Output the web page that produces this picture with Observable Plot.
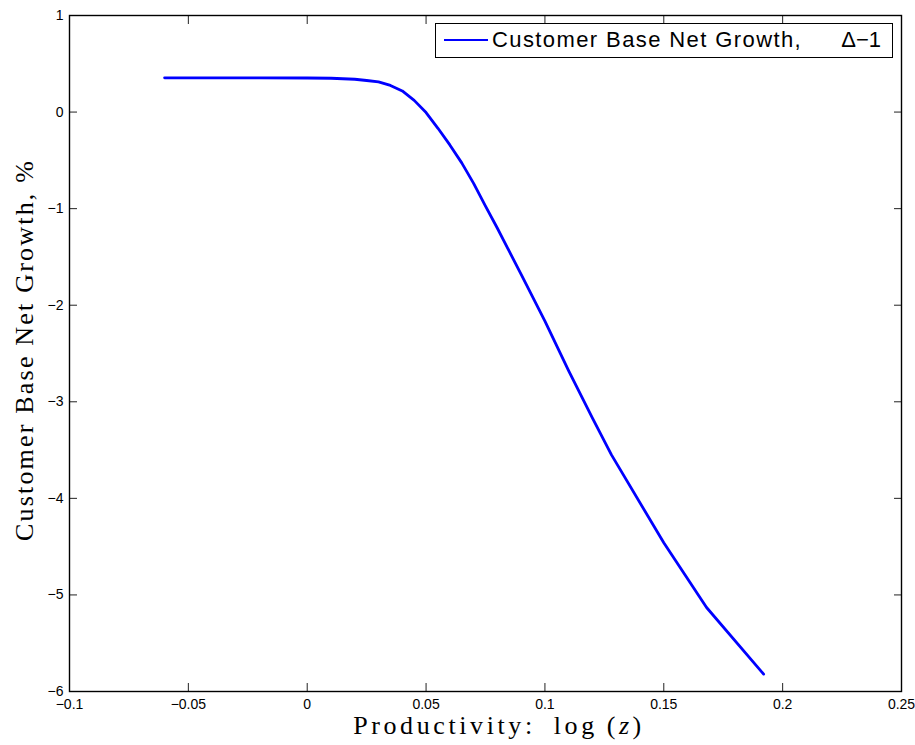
<!DOCTYPE html>
<html>
<head>
<meta charset="utf-8">
<script src="https://cdn.jsdelivr.net/npm/d3@7"></script>
<script src="https://cdn.jsdelivr.net/npm/@observablehq/plot@0.6"></script>
<style>
  html, body { margin: 0; padding: 0; background: #fff; }
  #wrap { position: relative; width: 915px; height: 745px; }
  #wrap svg { display: block; }
  .legend {
    position: absolute; left: 435px; top: 23px; width: 458px; height: 35px;
    border: 1.3px solid #000; background: #fff; box-sizing: border-box;
    font-family: "Liberation Sans", Arial, sans-serif; font-size: 22px; color: #000;
    line-height: 1;
  }
  .legend .swatch { position: absolute; left: 8px; top: 15px; width: 44px; height: 0; border-top: 2.8px solid #0000ff; }
  .legend .name { position: absolute; left: 56px; top: 5px; white-space: pre; letter-spacing: 1.4px; }
  .legend .delta { position: absolute; right: 11px; top: 5px; white-space: pre; }
  .axis-title { position: absolute; font-family: "Liberation Serif", "DejaVu Serif", serif; font-size: 26px; color: #000; white-space: pre; line-height: 1; }
  .x-title { letter-spacing: 3.6px; word-spacing: 8px; }
  .y-title { letter-spacing: 2.2px; }
</style>
</head>
<body>
<div id="wrap"></div>
<script>
// Customer base net growth (%) against productivity log(z)
const logZ = [-0.06, -0.04, -0.02, 0, 0.01, 0.02, 0.025, 0.03, 0.035, 0.04, 0.045, 0.05, 0.055, 0.06, 0.065, 0.07, 0.075, 0.08, 0.09, 0.1, 0.11, 0.12, 0.128, 0.15, 0.168, 0.192];
const growth = [0.355, 0.355, 0.355, 0.353, 0.35, 0.34, 0.327, 0.312, 0.276, 0.219, 0.121, -0.005, -0.168, -0.34, -0.526, -0.738, -0.973, -1.203, -1.681, -2.164, -2.68, -3.17, -3.55, -4.46, -5.13, -5.82];

const xTicks = [-0.1, -0.05, 0, 0.05, 0.1, 0.15, 0.2, 0.25];
const xTickLabels = ["\u22120.1", "\u22120.05", "0", "0.05", "0.1", "0.15", "0.2", "0.25"];
const yTicks = [-6, -5, -4, -3, -2, -1, 0, 1];
const yTickLabels = ["\u22126", "\u22125", "\u22124", "\u22123", "\u22122", "\u22121", "0", "1"];

const seriesName = "Customer Base Net Growth,";
const seriesTag = "\u0394\u22121";
const xTitle = "Productivity: log\u2009(z)";
const yTitle = "Customer Base Net Growth, %";

const data = logZ.map((x, i) => ({x, y: growth[i]}));
const xLab = new Map(xTicks.map((t, i) => [t, xTickLabels[i]]));
const yLab = new Map(yTicks.map((t, i) => [t, yTickLabels[i]]));

const tickStyle = {stroke: "#222", strokeWidth: 1, fontSize: 14, fontFamily: "Liberation Sans, Arial, sans-serif"};

const chart = Plot.plot({
  width: 915,
  height: 745,
  marginLeft: 69,
  marginRight: 14,
  marginTop: 15,
  marginBottom: 54,
  style: {fontFamily: "Liberation Sans, Arial, sans-serif", fontSize: "14px", color: "#000", background: "#fff"},
  x: {domain: [-0.1, 0.25]},
  y: {domain: [-6, 1]},
  marks: [
    Plot.axisX(xTicks, {anchor: "bottom", tickSize: -8, tickPadding: 16, tickFormat: d => xLab.get(d), label: null, ...tickStyle}),
    Plot.axisX(xTicks, {anchor: "top", tickSize: -8, tickFormat: () => "", label: null, ...tickStyle}),
    Plot.axisY(yTicks, {anchor: "left", tickSize: -8, tickPadding: 14, tickFormat: d => yLab.get(d), label: null, ...tickStyle}),
    Plot.axisY(yTicks, {anchor: "right", tickSize: -8, tickFormat: () => "", label: null, ...tickStyle}),
    Plot.line(data, {x: "x", y: "y", stroke: "#0000ff", strokeWidth: 2.8, curve: "linear"}),
    Plot.frame({stroke: "#000", strokeWidth: 1.4})
  ]
});

const wrap = document.getElementById("wrap");
wrap.appendChild(chart);

// legend box inside the plot area, top right
const legend = document.createElement("div");
legend.className = "legend";
legend.innerHTML = `<div class="swatch"></div><div class="name"></div><div class="delta"></div>`;
legend.querySelector(".name").textContent = seriesName;
legend.querySelector(".delta").textContent = seriesTag;
wrap.appendChild(legend);

// axis titles
const xt = document.createElement("div");
xt.className = "axis-title x-title";
xt.innerHTML = xTitle.replace("(z)", "(<i>z</i>)");
xt.style.left = "499px";
xt.style.top = "713px";
xt.style.transform = "translateX(-50%)";
wrap.appendChild(xt);

const yt = document.createElement("div");
yt.className = "axis-title y-title";
yt.textContent = yTitle;
yt.style.left = "25px";
yt.style.top = "350px";
yt.style.transform = "translate(-50%, -50%) rotate(-90deg)";
wrap.appendChild(yt);
</script>
</body>
</html>
